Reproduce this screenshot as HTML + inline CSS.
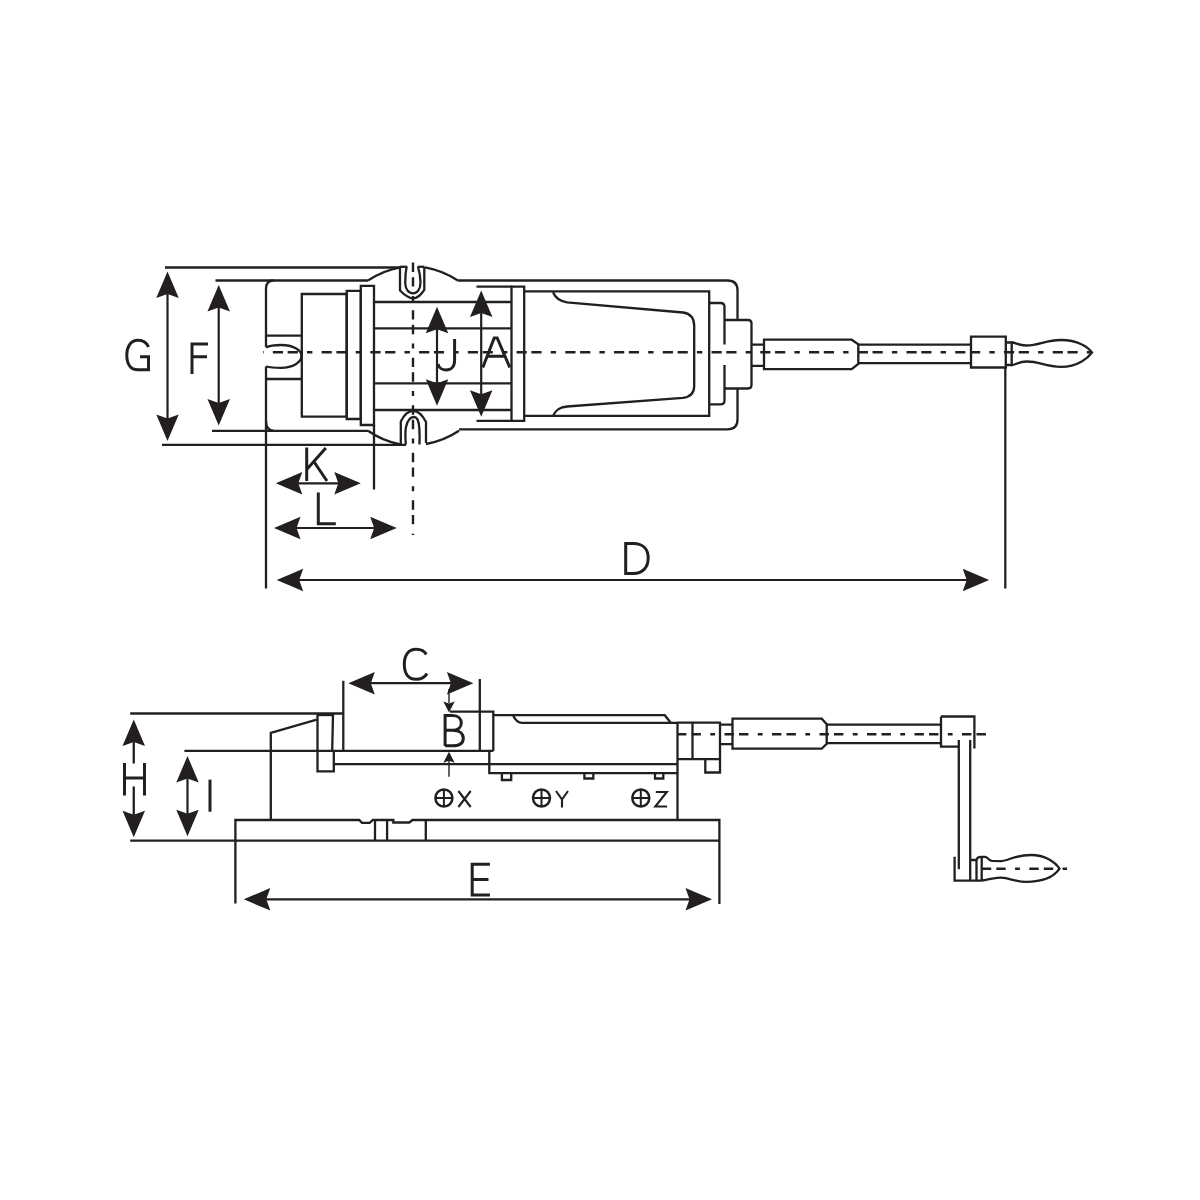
<!DOCTYPE html>
<html><head><meta charset="utf-8"><title>Vice drawing</title>
<style>
html,body{margin:0;padding:0;background:#fff;}
body{width:1200px;height:1200px;overflow:hidden;font-family:"Liberation Sans",sans-serif;}
svg{display:block;}
</style></head><body>
<svg width="1200" height="1200" viewBox="0 0 1200 1200">
<rect width="1200" height="1200" fill="#fff"/>
<g fill="none" stroke="#231f20" stroke-linecap="butt" stroke-linejoin="miter">
<path d="M165 267.5L400.5 267.5" stroke-width="2.3"/>
<path d="M162 444.8L406 444.8" stroke-width="2.3"/>
<path d="M215.5 280.5L368 280.5" stroke-width="2.3"/>
<path d="M212 430.8L368 430.8" stroke-width="2.3"/>
<path d="M167.5 291.5L167.5 421" stroke-width="2.2"/>
<path d="M167.50 271.50L178.75 298.00L167.50 294.00L156.25 298.00Z" fill="#231f20" stroke="none"/>
<path d="M167.50 441.00L156.25 414.50L167.50 418.50L178.75 414.50Z" fill="#231f20" stroke="none"/>
<path d="M218.7 305L218.7 405.5" stroke-width="2.2"/>
<path d="M218.70 285.00L229.95 311.50L218.70 307.50L207.45 311.50Z" fill="#231f20" stroke="none"/>
<path d="M218.70 425.50L207.45 399.00L218.70 403.00L229.95 399.00Z" fill="#231f20" stroke="none"/>
<path d="M273.5 280.5 Q266 280.5 266 289 L266 347" stroke-width="2.3"/>
<path d="M266 366.5 L266 588.5" stroke-width="2.3"/>
<path d="M266 421 Q266 430.8 274 430.8" stroke-width="2.3"/>
<path d="M266 335.6L301.8 335.6" stroke-width="2.3"/>
<path d="M266 379L301.8 379" stroke-width="2.3"/>
<path d="M266 347.5 C270 345.5 276 345 281 345 C293 345 301.5 350 301.5 356 C301.5 362 293 367.8 281 367.8 C276 367.8 270 367.5 266 366.5" stroke-width="2.3"/>
<path d="M301.8 294 H346.7 V416.7 H301.8 Z" stroke-width="2.3"/>
<path d="M346.7 290.8 H360.8 V419 H346.7 Z" stroke-width="2.3"/>
<path d="M360.8 285.8 H374 V425 H360.8 Z" stroke-width="2.3"/>
<path d="M374 425L374 489.5" stroke-width="2.3"/>
<path d="M374 302L511.7 302" stroke-width="2.3"/>
<path d="M374 328.3L511.7 328.3" stroke-width="2.3"/>
<path d="M374 383.3L511.7 383.3" stroke-width="2.3"/>
<path d="M374 410L511.7 410" stroke-width="2.3"/>
<path d="M511.5 286.6 H524.2 V420.8 H511.5 Z" stroke-width="2.3"/>
<path d="M476.5 286.6L511.5 286.6" stroke-width="2.3"/>
<path d="M476.5 420.8L511.5 420.8" stroke-width="2.3"/>
<path d="M368 280.5 A85 85 0 0 1 400.5 267.3" stroke-width="2.3"/>
<path d="M425 267.3 A85 85 0 0 1 457.8 280.5" stroke-width="2.3"/>
<path d="M368 430.8 A85 85 0 0 0 400.5 444.5" stroke-width="2.3"/>
<path d="M426 444 A85 85 0 0 0 459 430.8" stroke-width="2.3"/>
<path d="M400 266.8 V290.5 C404 294.5 408 298.3 413 298.3 C418 298.3 421 294.5 424.3 289.8 V266.8" stroke-width="2.3"/>
<path d="M400 266.8 H407.3" stroke-width="2.3"/>
<path d="M417.5 266.8 H424.3" stroke-width="2.3"/>
<path d="M406.6 266.8 C405.6 272 405.2 277 405.2 282.5 C405.2 289 408.5 293.3 413 293.3 C417.5 293.3 420.5 289 420.5 282.5 C420.5 277 419.5 272 418 266.8" stroke-width="2.3"/>
<path d="M400.8 444 V421.5 C404 415 408 410.8 413 410.8 C418 410.8 422.5 415 426 422 V443" stroke-width="2.3"/>
<path d="M405.8 444.5 C405.3 438 405 432 406 427 C407.5 420 410.5 417 414 417 C417 417 418.8 421 419.3 428 C419.7 434 419.7 440 419.5 444.5" stroke-width="2.3"/>
<path d="M457.8 280.5 H727.5 Q737.5 280.5 737.5 290.5 V320" stroke-width="2.3"/>
<path d="M737.5 389 V419.5 Q737.5 429.3 727.5 429.3 H459" stroke-width="2.3"/>
<path d="M524.2 291.3 H709.2 V415.8 H524.2" stroke-width="2.3"/>
<path d="M553 292.3 C555 297 558 301 567 302.3 L683 312.5 C690 313.5 694.2 318 694.2 326 L694.2 386 C694.2 393 690 397 683 397.8 L567 406.5 C558 407.5 555 411 553 416" stroke-width="2.3"/>
<path d="M709.2 303 H720.5 Q724.5 303 724.5 307 V344.5" stroke-width="2.3"/>
<path d="M724.5 365 V400.5 Q724.5 404.3 720.5 404.3 H709.2" stroke-width="2.3"/>
<path d="M724.5 320 H748 Q751.5 320 751.5 323.5 V385 Q751.5 388.5 748 388.5 H724.5" stroke-width="2.3"/>
<path d="M751.5 344.6 H764 M751.5 365.8 H764" stroke-width="2.3"/>
<path d="M764 339.7 H851.7 L858.3 344.4 V364 L851.7 369.2 H764 Z" stroke-width="2.3"/>
<path d="M858.3 344.6 H971 M858.3 363.2 H971" stroke-width="2.3"/>
<path d="M971 336.7 H1005.8 V367.5 H971 Z" stroke-width="2.3"/>
<path d="M1005.8 342.5 H1011.7 V365 H1005.8" stroke-width="2.3"/>
<path d="M1011.7 342.5 C1016 342.5 1018 345.5 1026 345.5 C1040 345.5 1045 340 1061 340 C1078 340 1088 347 1092 352.5 C1088 358 1078 366.8 1061 366.8 C1045 366.8 1040 361.5 1027 361.5 C1018 361.5 1016 365 1011.7 365" stroke-width="2.3"/>
<path d="M263 352.2 H1092" stroke-width="2.4" stroke-dasharray="5.4 9.2 10.2 4.6 10.2 9.14" stroke-dashoffset="4.74"/>
<path d="M413 262 V535" stroke-width="2.4" stroke-dasharray="5 9.2 9.4 5.2 9.4 9.35" stroke-dashoffset="13.60"/>
<path d="M1005.3 367.5L1005.3 588.5" stroke-width="2.3"/>
<path d="M437 326.7L437 385.8" stroke-width="2.2"/>
<path d="M437.00 306.70L448.25 333.20L437.00 329.20L425.75 333.20Z" fill="#231f20" stroke="none"/>
<path d="M437.00 405.80L425.75 379.30L437.00 383.30L448.25 379.30Z" fill="#231f20" stroke="none"/>
<path d="M481.2 310.6L481.2 396.7" stroke-width="2.2"/>
<path d="M481.20 290.60L492.45 317.10L481.20 313.10L469.95 317.10Z" fill="#231f20" stroke="none"/>
<path d="M481.20 416.70L469.95 390.20L481.20 394.20L492.45 390.20Z" fill="#231f20" stroke="none"/>
<path d="M295.8 483.3L340.8 483.3" stroke-width="2.2"/>
<path d="M275.80 483.30L302.30 472.05L298.30 483.30L302.30 494.55Z" fill="#231f20" stroke="none"/>
<path d="M360.80 483.30L334.30 494.55L338.30 483.30L334.30 472.05Z" fill="#231f20" stroke="none"/>
<path d="M294 528L376.7 528" stroke-width="2.2"/>
<path d="M274.00 528.00L300.50 516.75L296.50 528.00L300.50 539.25Z" fill="#231f20" stroke="none"/>
<path d="M396.70 528.00L370.20 539.25L374.20 528.00L370.20 516.75Z" fill="#231f20" stroke="none"/>
<path d="M296.7 580L969.2 580" stroke-width="2.2"/>
<path d="M276.70 580.00L303.20 568.75L299.20 580.00L303.20 591.25Z" fill="#231f20" stroke="none"/>
<path d="M989.20 580.00L962.70 591.25L966.70 580.00L962.70 568.75Z" fill="#231f20" stroke="none"/>
<path d="M148.5 347 C146.5 342 143 340.2 138 340.2 C130.5 340.2 126.8 347 126.8 355 C126.8 364 130.5 369.8 138 369.8 L148.5 369.8 L148.5 356.8 L140 356.8" stroke-width="3.0"/>
<path d="M192 374 V344 H208 M192 356.8 H207" stroke-width="3.0"/>
<path d="M454.6 339 V360.5 C454.6 366.5 451 370 446 370 C441 370 438.6 366.5 438 364" stroke-width="3.0"/>
<path d="M482.8 367.5 L494.2 338 H497.2 L509.8 367.5 M487.5 356.3 H505.5" stroke-width="3.0"/>
<path d="M306.7 447.5 V481 M325.8 448 L306.7 469.5 M313.8 461.5 L327 481" stroke-width="3.0"/>
<path d="M318.3 492.5 V523.7 H335.8" stroke-width="3.0"/>
<path d="M625.7 542 V573.5 H633 C644 573.5 648.2 566 648.2 558 C648.2 550 644 543.5 633 543.5 H625.7" stroke-width="3.0"/>
<path d="M130.2 713.5L343.3 713.5" stroke-width="2.3"/>
<path d="M184.4 750.9L493.3 750.9" stroke-width="2.3"/>
<path d="M130.2 840.7L719.6 840.7" stroke-width="2.3"/>
<path d="M133.75 719.60L145.00 746.10L133.75 742.10L122.50 746.10Z" fill="#231f20" stroke="none"/>
<path d="M133.75 837.30L122.50 810.80L133.75 814.80L145.00 810.80Z" fill="#231f20" stroke="none"/>
<path d="M133.75 740L133.75 763.5" stroke-width="2.3"/>
<path d="M133.75 786.5L133.75 817" stroke-width="2.3"/>
<path d="M124.5 763 V795.6 M144.5 763 V795.6 M124.5 778 H144.5" stroke-width="3.0"/>
<path d="M187.5 776L187.5 816.3" stroke-width="2.2"/>
<path d="M187.50 756.00L198.75 782.50L187.50 778.50L176.25 782.50Z" fill="#231f20" stroke="none"/>
<path d="M187.50 836.30L176.25 809.80L187.50 813.80L198.75 809.80Z" fill="#231f20" stroke="none"/>
<path d="M210 779.6 V811.7" stroke-width="3.0"/>
<path d="M235.4 903.5 V820 H359.2 L362 822.9 H369.6 L372.9 820 H393.3 V822.5 H409.2 L412.5 820 H719.4 V904" stroke-width="2.3"/>
<path d="M375 820L375 840.7" stroke-width="2.3"/>
<path d="M387.1 820L387.1 840.7" stroke-width="2.3"/>
<path d="M425.8 820L425.8 840.7" stroke-width="2.3"/>
<path d="M270.8 820 V732.9 L316.7 719.6" stroke-width="2.3"/>
<path d="M317.5 714.6 H333 L332.2 750.9 M317.5 714.6 V750.9" stroke-width="2.3"/>
<path d="M317.5 714.6 H333" stroke-width="3.2"/>
<path d="M317.5 751.7 V771.3 H333.8 V751.7" stroke-width="2.3"/>
<path d="M333.8 764.2L677.5 764.2" stroke-width="2.3"/>
<path d="M343.3 680.8L343.3 750.9" stroke-width="2.3"/>
<path d="M479.8 679L479.8 750.9" stroke-width="2.3"/>
<path d="M368.3 683.2L453.4 683.2" stroke-width="2.2"/>
<path d="M348.30 683.20L374.80 671.95L370.80 683.20L374.80 694.45Z" fill="#231f20" stroke="none"/>
<path d="M473.40 683.20L446.90 694.45L450.90 683.20L446.90 671.95Z" fill="#231f20" stroke="none"/>
<path d="M426.3 654.5 C424.3 650.5 421 649.3 416 649.3 C408 649.3 404.3 656 404.3 664.3 C404.3 673 408 679.3 416 679.3 C421 679.3 424.8 677.5 427 673.5" stroke-width="3.0"/>
<path d="M449 689L449 703" stroke-width="1.4"/>
<path d="M449.00 712.50L443.30 701.50L449.00 703.50L454.70 701.50Z" fill="#231f20" stroke="none"/>
<path d="M449 760L449 776.7" stroke-width="1.4"/>
<path d="M449.00 751.80L454.70 762.80L449.00 760.80L443.30 762.80Z" fill="#231f20" stroke="none"/>
<path d="M445.1 746 V715.6 H452.5 C458.5 715.6 461.3 719 461.3 723 C461.3 727 458.5 730.3 452.5 730.3 H445.1 M452.5 730.3 C459.8 730.3 463.3 734 463.3 738.2 C463.3 742.5 460 745.8 452.5 745.8 H445.1" stroke-width="3.0"/>
<path d="M450 711.7 H493.3 V750.9" stroke-width="2.3"/>
<path d="M493.3 715.2 H664.8 L670.5 722.5" stroke-width="2.3"/>
<path d="M513 715.2 C515 719.5 517 722.8 522 722.8 H678" stroke-width="2.3"/>
<path d="M489.3 750.9 V773.2 H677.5" stroke-width="2.3"/>
<path d="M501.9 773.2 V780 H511.2 V773.2 M584.4 773.2 V778.5 H593.3 V773.2 M655 773.2 V778.5 H663.3 V773.2" stroke-width="2.3"/>
<path d="M677.5 722.6L677.5 820" stroke-width="2.3"/>
<path d="M677.5 722.6 H720 V759.2 H677.5" stroke-width="2.3"/>
<path d="M692.5 722.6L692.5 759.2" stroke-width="2.3"/>
<path d="M705.3 759.2 V772.5 H720 V759.2" stroke-width="2.3"/>
<path d="M720 724.7 H732.5 M720 744.2 H732.5" stroke-width="2.3"/>
<path d="M732.5 718.7 H821.7 L826.7 724.2 V743.7 L821.7 748.7 H732.5 Z" stroke-width="2.3"/>
<path d="M826.7 724.6 H941 M826.7 743.2 H941" stroke-width="2.3"/>
<path d="M941 716.5 H974.4 V748.5 M941 716.5 V746.7 H958.8" stroke-width="2.3"/>
<path d="M958.8 740L958.8 869.2" stroke-width="2.3"/>
<path d="M970.2 740L970.2 880.6" stroke-width="2.3"/>
<path d="M954.6 856.7 V880.6 H981.7" stroke-width="2.3"/>
<path d="M970.2 860 H976.5 V880.6 M976.5 860 C977 857.6 978.5 856.8 981 856.8 L985 856.8 C987.5 856.8 988.5 860.6 992 860.8 L1001 861.1 C1008 861.1 1014 855 1031 855 C1045 855 1055 862 1059.5 868.7 C1055 875.5 1045 881.8 1026 881.8 C1015 881.8 1010 878 1001 877.6 C993 877.3 987 880.5 981.4 880.5" stroke-width="2.3"/>
<path d="M981.7 858L981.7 880.6" stroke-width="2.3"/>
<path d="M677 734.2 H986" stroke-width="2.4" stroke-dasharray="4.8 9.4 9.4 5.1 9.4 9.4" stroke-dashoffset="14.20"/>
<path d="M981.4 868.7 H1067.1" stroke-width="2.4" stroke-dasharray="4.8 9.4 9.4 5.1 9.4 9.4" stroke-dashoffset="13.80"/>
<path d="M263.8 899.3L692 899.3" stroke-width="2.2"/>
<path d="M243.80 899.30L270.30 888.05L266.30 899.30L270.30 910.55Z" fill="#231f20" stroke="none"/>
<path d="M712.00 899.30L685.50 910.55L689.50 899.30L685.50 888.05Z" fill="#231f20" stroke="none"/>
<path d="M489.9 864.2 H472.2 V895 H489.9 M472.2 879.5 H488.5" stroke-width="3.0"/>
<circle cx="443.9" cy="798" r="8.5" stroke-width="2.5"/>
<path d="M435.29999999999995 798 H452.5 M443.9 789.4 V806.6" stroke-width="2.0"/>
<path d="M458.4 791 L470.7 807 M470.7 791 L458.4 807" stroke-width="2.1"/>
<circle cx="541.5" cy="798" r="8.5" stroke-width="2.5"/>
<path d="M532.9 798 H550.1 M541.5 789.4 V806.6" stroke-width="2.0"/>
<path d="M556.0 791 L562.0 799.5 L568.0 791 M562.0 799.5 V807.5" stroke-width="2.1"/>
<circle cx="640.8" cy="798" r="8.5" stroke-width="2.5"/>
<path d="M632.1999999999999 798 H649.4 M640.8 789.4 V806.6" stroke-width="2.0"/>
<path d="M655.8 792 H666.8 L655.3 806.5 H667.0999999999999" stroke-width="2.1"/>
</g>
</svg>
</body></html>
